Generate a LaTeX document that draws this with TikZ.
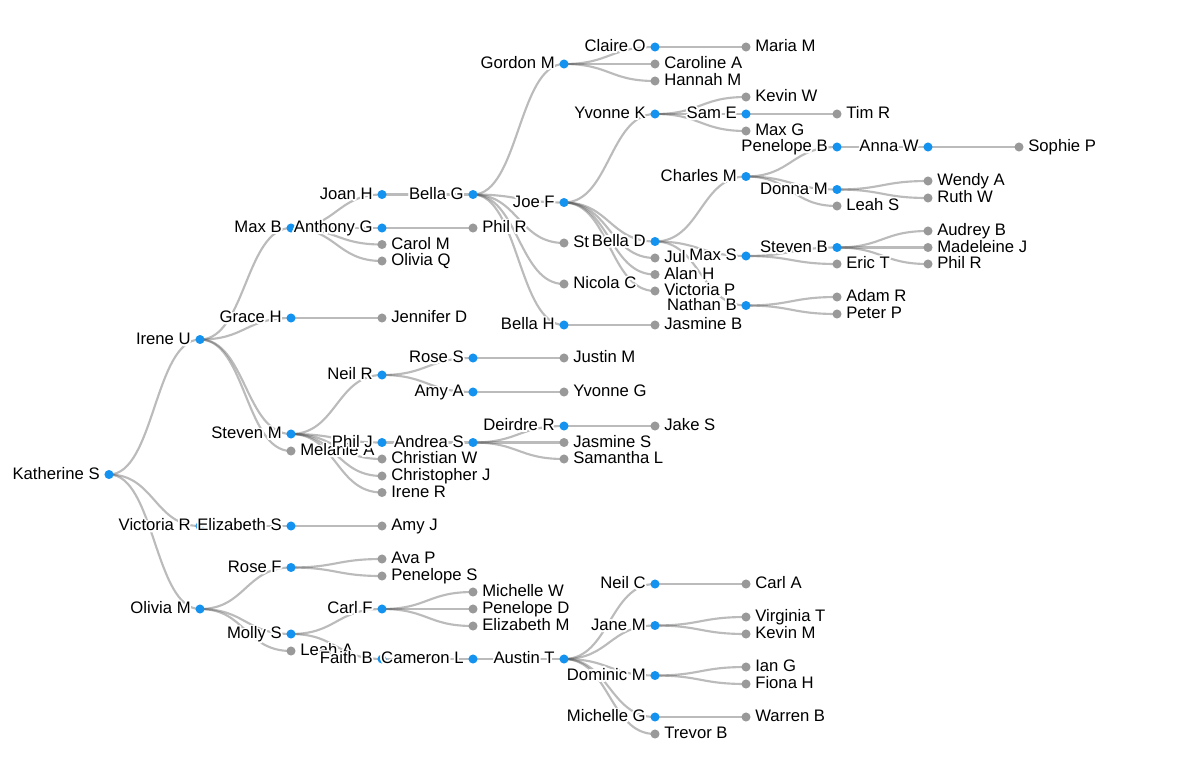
\documentclass[tikz,border=0pt]{standalone}
\usepackage{fontspec}
\setmainfont{Liberation Sans}
\usepackage{contour}
\contourlength{1.3pt}
\contournumber{16}
\usetikzlibrary{backgrounds}
\definecolor{kinblue}{HTML}{1392F0}
\definecolor{leafgrey}{HTML}{999999}
\definecolor{linkgrey}{HTML}{555555}
\newcommand\halo[1]{\contour{white}{#1}}

\begin{document}
\begin{tikzpicture}[
  x=0.75pt,y=-0.75pt,
  kin/.style={circle,fill=kinblue,inner sep=0pt,minimum size=6.8pt},
  leaf/.style={circle,fill=leafgrey,inner sep=0pt,minimum size=6.8pt},
  every label/.style={inner sep=0pt,font=\fontsize{12.5}{15}\selectfont,text height=9pt,text depth=1.6pt},
  label distance=3.2pt,
  link/.style={draw=linkgrey,draw opacity=0.4,line width=1.6pt}
]
\useasboundingbox (0,0) rectangle (1198,768);

% depth 0 and 1
\node[kin,label={left:\halo{Katherine S}}] (kath) at (109,474.5) {};
\node[kin,label={left:\halo{Irene U}}] (ireneU) at (200,339.5) {};
\node[kin,label={left:\halo{Victoria R}}] (victoriaR) at (200,526) {};
\node[kin,label={left:\halo{Olivia M}}] (oliviaM) at (200,609) {};
% depth 2
\node[kin,label={left:\halo{Max B}}] (maxB) at (291,228) {};
\node[kin,label={left:\halo{Grace H}}] (graceH) at (291,318) {};
\node[kin,label={left:\halo{Steven M}}] (stevenM) at (291,434) {};
\node[leaf,label={right:\halo{Melanie A}}] (melanieA) at (291,451) {};
\node[kin,label={left:\halo{Elizabeth S}}] (elizabethS) at (291,526) {};
\node[kin,label={left:\halo{Rose F}}] (roseF) at (291,567.5) {};
\node[kin,label={left:\halo{Molly S}}] (mollyS) at (291,634) {};
\node[leaf,label={right:\halo{Leah A}}] (leahA) at (291,651) {};
% depth 3
\node[kin,label={left:\halo{Joan H}}] (joanH) at (382,194.5) {};
\node[kin,label={left:\halo{Anthony G}}] (anthonyG) at (382,228) {};
\node[leaf,label={right:\halo{Carol M}}] (carolM) at (382,244.5) {};
\node[leaf,label={right:\halo{Olivia Q}}] (oliviaQ) at (382,261) {};
\node[leaf,label={right:\halo{Jennifer D}}] (jenniferD) at (382,318) {};
\node[kin,label={left:\halo{Neil R}}] (neilR) at (382,375) {};
\node[kin,label={left:\halo{Phil J}}] (philJ) at (382,442.5) {};
\node[leaf,label={right:\halo{Christian W}}] (christianW) at (382,459) {};
\node[leaf,label={right:\halo{Christopher J}}] (christopherJ) at (382,476) {};
\node[leaf,label={right:\halo{Irene R}}] (ireneR) at (382,492.5) {};
\node[leaf,label={right:\halo{Amy J}}] (amyJ) at (382,526) {};
\node[leaf,label={right:\halo{Ava P}}] (avaP) at (382,559) {};
\node[leaf,label={right:\halo{Penelope S}}] (penelopeS) at (382,576) {};
\node[kin,label={left:\halo{Carl F}}] (carlF) at (382,609) {};
\node[kin,label={left:\halo{Faith B}}] (faithB) at (382,659) {};
% depth 4
\node[kin,label={left:\halo{Bella G}}] (bellaG) at (473,194.5) {};
\node[leaf,label={right:\halo{Phil R}}] (philR) at (473,228) {};
\node[kin,label={left:\halo{Rose S}}] (roseS) at (473,358) {};
\node[kin,label={left:\halo{Amy A}}] (amyA) at (473,392) {};
\node[kin,label={left:\halo{Andrea S}}] (andreaS) at (473,442.5) {};
\node[leaf,label={right:\halo{Michelle W}}] (michelleW) at (473,592) {};
\node[leaf,label={right:\halo{Penelope D}}] (penelopeD) at (473,609) {};
\node[leaf,label={right:\halo{Elizabeth M}}] (elizabethM) at (473,626) {};
\node[kin,label={left:\halo{Cameron L}}] (cameronL) at (473,659) {};
% depth 5
\node[kin,label={left:\halo{Gordon M}}] (gordonM) at (564,64) {};
\node[kin,label={left:\halo{Joe F}}] (joeF) at (564,202.5) {};
\node[leaf,label={right:\halo{St}}] (st) at (564,243) {};
\node[leaf,label={right:\halo{Nicola C}}] (nicolaC) at (564,284) {};
\node[kin,label={left:\halo{Bella H}}] (bellaH) at (564,325) {};
\node[leaf,label={right:\halo{Justin M}}] (justinM) at (564,358) {};
\node[leaf,label={right:\halo{Yvonne G}}] (yvonneG) at (564,392) {};
\node[kin,label={left:\halo{Deirdre R}}] (deirdreR) at (564,426) {};
\node[leaf,label={right:\halo{Jasmine S}}] (jasmineS) at (564,442.5) {};
\node[leaf,label={right:\halo{Samantha L}}] (samanthaL) at (564,459) {};
\node[kin,label={left:\halo{Austin T}}] (austinT) at (564,659) {};
% depth 6
\node[kin,label={left:\halo{Claire O}}] (claireO) at (655,47) {};
\node[leaf,label={right:\halo{Caroline A}}] (carolineA) at (655,64) {};
\node[leaf,label={right:\halo{Hannah M}}] (hannahM) at (655,81) {};
\node[kin,label={left:\halo{Yvonne K}}] (yvonneK) at (655,114) {};
\node[kin,label={left:\halo{Bella D}}] (bellaD) at (655,241.5) {};
\node[leaf,label={right:\halo{Jul}}] (jul) at (655,258) {};
\node[leaf,label={right:\halo{Alan H}}] (alanH) at (655,274.5) {};
\node[leaf,label={right:\halo{Victoria P}}] (victoriaP) at (655,291) {};
\node[leaf,label={right:\halo{Jasmine B}}] (jasmineB) at (655,325) {};
\node[leaf,label={right:\halo{Jake S}}] (jakeS) at (655,426) {};
\node[kin,label={left:\halo{Neil C}}] (neilC) at (655,584) {};
\node[kin,label={left:\halo{Jane M}}] (janeM) at (655,625.5) {};
\node[kin,label={left:\halo{Dominic M}}] (dominicM) at (655,675.5) {};
\node[kin,label={left:\halo{Michelle G}}] (michelleG) at (655,717) {};
\node[leaf,label={right:\halo{Trevor B}}] (trevorB) at (655,734) {};
% depth 7
\node[leaf,label={right:\halo{Maria M}}] (mariaM) at (746,47) {};
\node[leaf,label={right:\halo{Kevin W}}] (kevinW) at (746,97) {};
\node[kin,label={left:\halo{Sam E}}] (samE) at (746,114) {};
\node[leaf,label={right:\halo{Max G}}] (maxG) at (746,131) {};
\node[kin,label={left:\halo{Charles M}}] (charlesM) at (746,176.5) {};
\node[kin,label={left:\halo{Max S}}] (maxS) at (746,256) {};
\node[kin,label={left:\halo{Nathan B}}] (nathanB) at (746,305.5) {};
\node[leaf,label={right:\halo{Carl A}}] (carlA) at (746,584) {};
\node[leaf,label={right:\halo{Virginia T}}] (virginiaT) at (746,617) {};
\node[leaf,label={right:\halo{Kevin M}}] (kevinM) at (746,634) {};
\node[leaf,label={right:\halo{Ian G}}] (ianG) at (746,667) {};
\node[leaf,label={right:\halo{Fiona H}}] (fionaH) at (746,684) {};
\node[leaf,label={right:\halo{Warren B}}] (warrenB) at (746,717) {};
% depth 8
\node[leaf,label={right:\halo{Tim R}}] (timR) at (837,114) {};
\node[kin,label={left:\halo{Penelope B}}] (penelopeB) at (837,147) {};
\node[kin,label={left:\halo{Donna M}}] (donnaM) at (837,189.5) {};
\node[leaf,label={right:\halo{Leah S}}] (leahS) at (837,206) {};
\node[kin,label={left:\halo{Steven B}}] (stevenB) at (837,247.5) {};
\node[leaf,label={right:\halo{Eric T}}] (ericT) at (837,264) {};
\node[leaf,label={right:\halo{Adam R}}] (adamR) at (837,297) {};
\node[leaf,label={right:\halo{Peter P}}] (peterP) at (837,314) {};
% depth 9 and 10
\node[kin,label={left:\halo{Anna W}}] (annaW) at (928,147) {};
\node[leaf,label={right:\halo{Wendy A}}] (wendyA) at (928,181) {};
\node[leaf,label={right:\halo{Ruth W}}] (ruthW) at (928,198) {};
\node[leaf,label={right:\halo{Audrey B}}] (audreyB) at (928,231) {};
\node[leaf,label={right:\halo{Madeleine J}}] (madeleineJ) at (928,247.5) {};
\node[leaf,label={right:\halo{Phil R}}] (philRb) at (928,264) {};
\node[leaf,label={right:\halo{Sophie P}}] (sophieP) at (1019,147) {};

% links
\begin{scope}[on background layer]
\foreach \p/\c in {kath/ireneU,kath/victoriaR,kath/oliviaM,
  ireneU/maxB,ireneU/graceH,ireneU/stevenM,ireneU/melanieA,
  victoriaR/elizabethS,oliviaM/roseF,oliviaM/mollyS,oliviaM/leahA,
  maxB/joanH,maxB/anthonyG,maxB/carolM,maxB/oliviaQ,graceH/jenniferD,
  stevenM/neilR,stevenM/philJ,stevenM/christianW,stevenM/christopherJ,stevenM/ireneR,
  elizabethS/amyJ,roseF/avaP,roseF/penelopeS,mollyS/carlF,mollyS/faithB,
  joanH/bellaG,anthonyG/philR,neilR/roseS,neilR/amyA,philJ/andreaS,
  carlF/michelleW,carlF/penelopeD,carlF/elizabethM,faithB/cameronL,
  bellaG/gordonM,bellaG/joeF,bellaG/st,bellaG/nicolaC,bellaG/bellaH,
  roseS/justinM,amyA/yvonneG,andreaS/deirdreR,andreaS/jasmineS,andreaS/samanthaL,
  cameronL/austinT,gordonM/claireO,gordonM/carolineA,gordonM/hannahM,
  joeF/yvonneK,joeF/bellaD,joeF/jul,joeF/alanH,joeF/victoriaP,
  bellaH/jasmineB,deirdreR/jakeS,
  austinT/neilC,austinT/janeM,austinT/dominicM,austinT/michelleG,austinT/trevorB,
  claireO/mariaM,yvonneK/kevinW,yvonneK/samE,yvonneK/maxG,
  bellaD/charlesM,bellaD/maxS,bellaD/nathanB,
  neilC/carlA,janeM/virginiaT,janeM/kevinM,dominicM/ianG,dominicM/fionaH,michelleG/warrenB,
  samE/timR,charlesM/penelopeB,charlesM/donnaM,charlesM/leahS,
  maxS/stevenB,maxS/ericT,nathanB/adamR,nathanB/peterP,
  penelopeB/annaW,donnaM/wendyA,donnaM/ruthW,
  stevenB/audreyB,stevenB/madeleineJ,stevenB/philRb,annaW/sophieP}
  \draw[link] (\p.center) .. controls +(45.5,0) and +(-45.5,0) .. (\c.center);
\end{scope}
\end{tikzpicture}
\end{document}
